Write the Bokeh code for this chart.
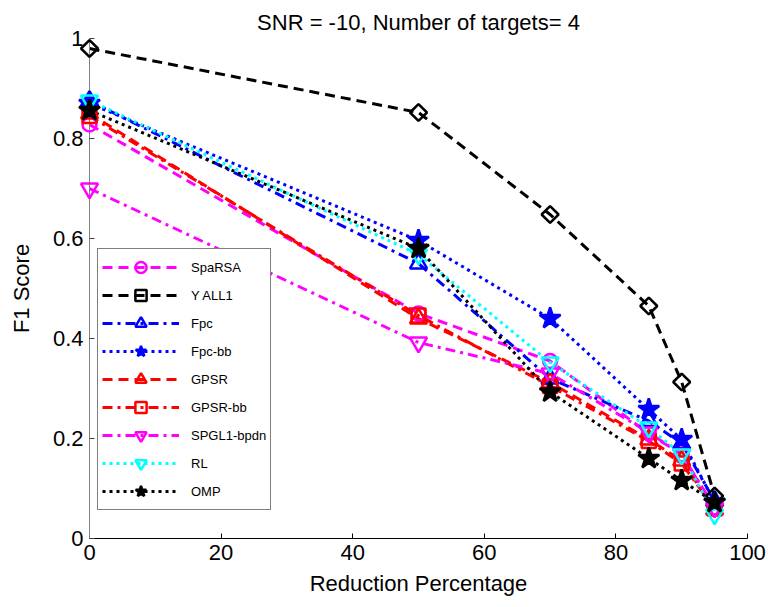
import math
from bokeh.plotting import figure
from bokeh.models import Range1d, FixedTicker, Legend, LegendItem
from bokeh.embed import file_html
from bokeh.resources import INLINE

# ---------------- data ----------------
reduction = [0, 50, 70, 85, 90, 95]

sparsa = [0.828, 0.450, 0.355, 0.210, 0.168, 0.060]
yall1 = [0.980, 0.852, 0.648, 0.465, 0.313, 0.085]
fpc = [0.875, 0.550, 0.320, 0.235, 0.190, 0.075]
fpc_bb = [0.870, 0.596, 0.440, 0.258, 0.198, 0.072]
gpsr = [0.850, 0.440, 0.312, 0.198, 0.156, 0.058]
gpsr_bb = [0.845, 0.446, 0.305, 0.195, 0.150, 0.060]
spgl1 = [0.700, 0.392, 0.330, 0.212, 0.168, 0.062]
rl = [0.876, 0.568, 0.352, 0.222, 0.168, 0.048]
omp = [0.856, 0.580, 0.293, 0.160, 0.116, 0.072]

series_names = ["SpaRSA", "Y ALL1", "Fpc", "Fpc-bb", "GPSR", "GPSR-bb",
                "SPGL1-bpdn", "RL", "OMP"]
series_values = [sparsa, yall1, fpc, fpc_bb, gpsr, gpsr_bb, spgl1, rl, omp]

x_ticks = [0, 20, 40, 60, 80, 100]
x_tick_labels = ["0", "20", "40", "60", "80", "100"]
y_ticks = [0, 0.2, 0.4, 0.6, 0.8, 1.0]
y_tick_labels = ["0", "0.2", "0.4", "0.6", "0.8", "1"]

title_text = "SNR = -10, Number of targets= 4"
x_label = "Reduction Percentage"
y_label = "F1 Score"

# ---------------- styles ----------------
styles = [
    dict(color="#FF00FF", dash="10 6", marker="circle", size=14, angle=0, fill=False),
    dict(color="#000000", dash="10 6", marker="square", size=12, angle=math.pi / 4, fill=False),
    dict(color="#0000FF", dash="10 5 3 5", marker="triangle", size=17, angle=0, fill=False),
    dict(color="#0000FF", dash="3 4", marker="star", size=22, angle=0, fill=True),
    dict(color="#FF0000", dash="10 6", marker="triangle", size=17, angle=0, fill=False),
    dict(color="#FF0000", dash="10 5 3 5", marker="square", size=14, angle=0, fill=False),
    dict(color="#FF00FF", dash="10 5 3 5", marker="inverted_triangle", size=17, angle=0, fill=False),
    dict(color="#00FFFF", dash="3 4", marker="inverted_triangle", size=17, angle=0, fill=False),
    dict(color="#000000", dash="3 4", marker="star", size=22, angle=0, fill=True),
]

FONT = "Liberation Sans"

p = figure(width=768, height=607, output_backend="svg", toolbar_location=None,
           x_range=Range1d(0, 100), y_range=Range1d(0, 1),
           min_border_left=89, min_border_right=21, min_border_top=38,
           min_border_bottom=69)
p.background_fill_color = "white"
p.border_fill_color = "white"
p.outline_line_color = None
p.xgrid.visible = False
p.ygrid.visible = False

p.title.text = title_text
p.title.align = "center"
p.title.text_font = FONT
p.title.text_font_size = "22px"
p.title.text_font_style = "normal"
p.title.text_color = "black"
p.title.standoff = 8

for ax, ticks, labels in ((p.xaxis[0], x_ticks, x_tick_labels),
                          (p.yaxis[0], y_ticks, y_tick_labels)):
    ax.ticker = FixedTicker(ticks=ticks)
    ax.major_label_overrides = {t: l for t, l in zip(ticks, labels)}
    ax.major_tick_in = 5
    ax.major_tick_out = 0
    ax.minor_tick_line_color = None
    ax.major_label_text_font = FONT
    ax.major_label_text_font_size = "22px"
    ax.major_label_text_color = "black"
    ax.axis_label_text_font = FONT
    ax.axis_label_text_font_size = "22px"
    ax.axis_label_text_font_style = "normal"
    ax.axis_label_text_color = "black"
    ax.major_label_standoff = 6

p.xaxis.axis_label = x_label
p.yaxis.axis_label = y_label
p.xaxis.axis_line_color = "black"
p.xaxis.major_tick_line_color = "black"
p.yaxis.axis_line_color = "#808080"
p.yaxis.major_tick_line_color = "#404040"
p.yaxis.axis_label_standoff = 16
p.xaxis.axis_label_standoff = 8

items = []
for name, vals, st in zip(series_names, series_values, styles):
    ln = p.line(reduction, vals, line_color=st["color"], line_width=3,
                line_dash=st["dash"])
    sc = p.scatter(reduction, vals, marker=st["marker"], size=st["size"],
                   angle=st["angle"],
                   line_color=st["color"], line_width=2.5,
                   fill_color=st["color"] if st["fill"] else None,
                   level="overlay")
    items.append(LegendItem(label=name, renderers=[ln, sc]))

legend = Legend(items=items, location=(8, 28))
legend.label_text_font = FONT
legend.label_text_font_size = "13px"
legend.label_text_color = "black"
legend.glyph_width = 77
legend.glyph_height = 28
legend.spacing = 0
legend.padding = 4
legend.margin = 0
legend.label_standoff = 12
legend.border_line_color = "black"
legend.border_line_width = 1.5
legend.background_fill_color = "white"
legend.background_fill_alpha = 1.0
p.add_layout(legend, "center")

open("out.html", "w").write(file_html(p, INLINE))
